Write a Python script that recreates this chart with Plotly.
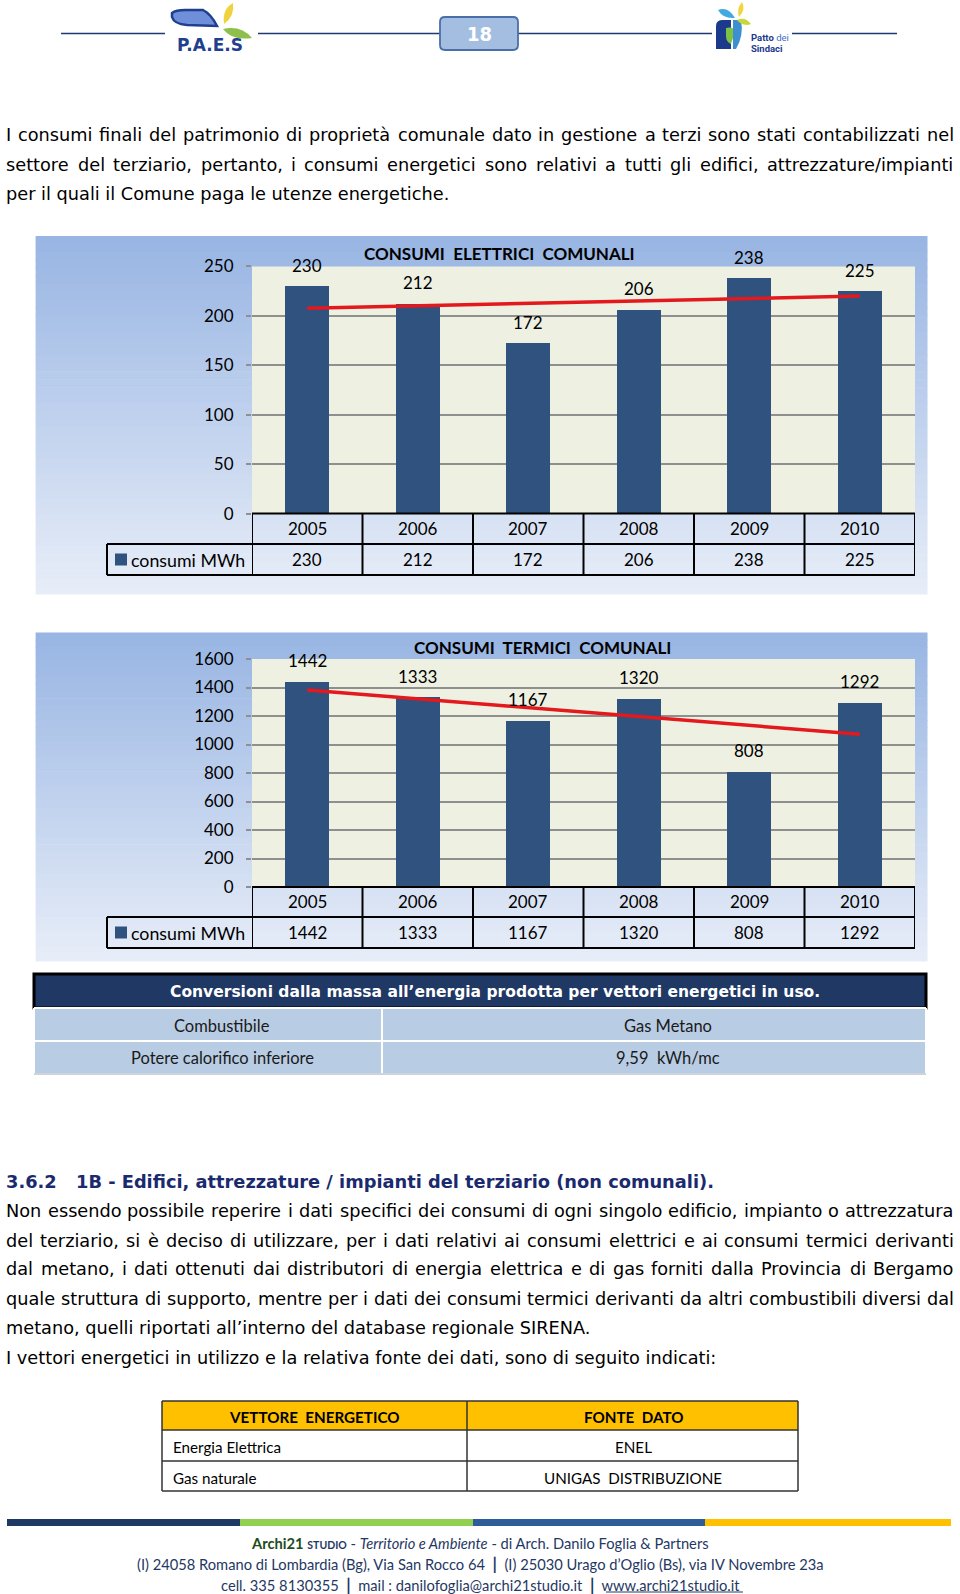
import struct, glob, os
import numpy as np
import plotly.graph_objects as go

# ---------------- data ----------------
years = [2005, 2006, 2007, 2008, 2009, 2010]
elettrici = [230, 212, 172, 206, 238, 225]
termici = [1442, 1333, 1167, 1320, 808, 1292]
series_name = "consumi MWh"
title_elettrici = "CONSUMI  ELETTRICI  COMUNALI"
title_termici = "CONSUMI  TERMICI  COMUNALI"
yticks_elettrici = [0, 50, 100, 150, 200, 250]
yticks_termici = [0, 200, 400, 600, 800, 1000, 1200, 1400, 1600]

para1 = [
    "I consumi finali del patrimonio di proprietà comunale dato in gestione a terzi sono stati contabilizzati nel",
    "settore del terziario, pertanto, i consumi energetici sono relativi a tutti gli edifici, attrezzature/impianti",
    "per il quali il Comune paga le utenze energetiche.",
]
para1_just = [True, True, False]
heading_num = "3.6.2"
heading_text = "1B - Edifici, attrezzature / impianti del terziario (non comunali)."
para2 = [
    "Non essendo possibile reperire i dati specifici dei consumi di ogni singolo edificio, impianto o attrezzatura",
    "del terziario, si è deciso di utilizzare, per i dati relativi ai consumi elettrici e ai consumi termici derivanti",
    "dal metano, i dati ottenuti dai distributori di energia elettrica e di gas forniti dalla Provincia di Bergamo",
    "quale struttura di supporto, mentre per i dati dei consumi termici derivanti da altri combustibili diversi dal",
    "metano, quelli riportati all’interno del database regionale SIRENA.",
    "I vettori energetici in utilizzo e la relativa fonte dei dati, sono di seguito indicati:",
]
para2_just = [True, True, True, True, False, False]

conv_title = "Conversioni dalla massa all’energia prodotta per vettori energetici in uso."
conv_rows = [("Combustibile", "Gas Metano"), ("Potere calorifico inferiore", "9,59  kWh/mc")]
fonti_header = ("VETTORE  ENERGETICO", "FONTE  DATO")
fonti_rows = [("Energia Elettrica", "ENEL"), ("Gas naturale", "UNIGAS  DISTRIBUZIONE")]
page_number = "18"

# ---------------- geometry helpers ----------------
W, H = 960, 1594
def fx(x): return x / W
def fy(y): return 1 - y / H

shapes, annotations = [], []
NOLINE = dict(color="rgba(0,0,0,0)", width=0)

def rect(x0, y0, x1, y1, fill, lc=None, lw=0, layer="below"):
    shapes.append(dict(type="rect", xref="paper", yref="paper", x0=fx(x0), x1=fx(x1),
                       y0=fy(y1), y1=fy(y0), fillcolor=fill, layer=layer,
                       line=dict(color=lc, width=lw) if lc else NOLINE))

def seg(x0, y0, x1, y1, color, w, layer="above", xref="paper"):
    X0, X1 = (fx(x0), fx(x1)) if xref == "paper" else (x0, x1)
    shapes.append(dict(type="line", xref=xref, yref="paper", x0=X0, x1=X1, y0=fy(y0), y1=fy(y1),
                       line=dict(color=color, width=w), layer=layer))

def path(cmds, fill, lc=None, lw=0, layer="above"):
    s = ""
    for c in cmds:
        if c[0] == "Z":
            s += " Z"
        else:
            pts = c[1:]
            s += " " + c[0] + " " + " ".join(f"{fx(pts[i]):.5f},{fy(pts[i+1]):.5f}" for i in range(0, len(pts), 2))
    shapes.append(dict(type="path", xref="paper", yref="paper", path=s.strip(), fillcolor=fill,
                       layer=layer, line=dict(color=lc, width=lw) if lc else NOLINE))

def text(x, y, s, size, color="#000000", family="Lato", xanchor="center", xref="paper", yshift=0):
    annotations.append(dict(x=fx(x) if xref == "paper" else x, y=fy(y), xref=xref, yref="paper",
                            text=s, showarrow=False, xanchor=xanchor, yanchor="middle",
                            borderpad=0, borderwidth=0, yshift=yshift,
                            font=dict(size=size, color=color, family=family)))

# ---------------- font metrics (for justified text) ----------------
def find_font(name):
    for d in ["/usr/share/fonts", "/usr/local/share/fonts", os.path.expanduser("~/.fonts"),
              os.path.expanduser("~/.local/share/fonts")]:
        r = glob.glob(os.path.join(d, "**", name), recursive=True)
        if r:
            return r[0]
    return None

class Metrics:
    def __init__(self, p):
        data = open(p, "rb").read()
        n = struct.unpack(">H", data[4:6])[0]
        t = {}
        for i in range(n):
            tag, cs, off, ln = struct.unpack(">4sIII", data[12 + 16 * i:28 + 16 * i])
            t[tag] = off
        self.upem = struct.unpack(">H", data[t[b"head"] + 18:t[b"head"] + 20])[0]
        nhm = struct.unpack(">H", data[t[b"hhea"] + 34:t[b"hhea"] + 36])[0]
        hm = t[b"hmtx"]
        self.adv = [struct.unpack(">H", data[hm + 4 * i:hm + 4 * i + 2])[0] for i in range(nhm)]
        c = t[b"cmap"]
        nsub = struct.unpack(">H", data[c + 2:c + 4])[0]
        best = None
        for i in range(nsub):
            pid, eid, off = struct.unpack(">HHI", data[c + 4 + 8 * i:c + 12 + 8 * i])
            fmt = struct.unpack(">H", data[c + off:c + off + 2])[0]
            if fmt == 4 and (pid, eid) in ((3, 1), (0, 3), (0, 4), (0, 1)):
                best = c + off
                if (pid, eid) == (3, 1):
                    break
        o = best
        sx2 = struct.unpack(">H", data[o + 6:o + 8])[0]
        ns = sx2 // 2
        self.ends = struct.unpack(">%dH" % ns, data[o + 14:o + 14 + sx2])
        self.starts = struct.unpack(">%dH" % ns, data[o + 16 + sx2:o + 16 + 2 * sx2])
        self.deltas = struct.unpack(">%dh" % ns, data[o + 16 + 2 * sx2:o + 16 + 3 * sx2])
        self.ropos = o + 16 + 3 * sx2
        self.ros = struct.unpack(">%dH" % ns, data[self.ropos:self.ropos + sx2])
        self.data = data

    def gid(self, ch):
        for s in range(len(self.ends)):
            if self.ends[s] >= ch:
                if self.starts[s] > ch:
                    return 0
                if self.ros[s] == 0:
                    return (ch + self.deltas[s]) & 0xFFFF
                addr = self.ropos + 2 * s + self.ros[s] + 2 * (ch - self.starts[s])
                g = struct.unpack(">H", self.data[addr:addr + 2])[0]
                return (g + self.deltas[s]) & 0xFFFF if g else 0
        return 0

    def units(self, s):
        tot = 0
        for ch in s:
            g = self.gid(ord(ch))
            tot += self.adv[g] if g < len(self.adv) else self.adv[-1]
        return tot / self.upem

class Fallback:
    def __init__(self, k): self.k = k
    def units(self, s): return len(s) * self.k

def load(name, k):
    p = find_font(name)
    try:
        return Metrics(p) if p else Fallback(k)
    except Exception:
        return Fallback(k)

m_reg = load("DejaVuSans.ttf", 0.55)
m_bold = load("DejaVuSans-Bold.ttf", 0.62)

TL, TR = 6.1, 954.0
fits = [(para1[2], 447.5), (para2[4], 591.9), (para2[5], 722.0)]
body_size = float(np.mean([(e - TL) / m_reg.units(s) for s, e in fits]))
head_size = (715.0 - 76.3) / m_bold.units(heading_text)
conv_size = (820.0 - 169.0) / m_bold.units(conv_title)

def body_line(s, y, justify, metrics, size, family, color="#000000", left=TL, right=TR):
    if not justify:
        text(left, y, s, size, color, family, xanchor="left")
        return
    words = s.split(" ")
    ws = [metrics.units(w) * size for w in words]
    gap = (right - left - sum(ws)) / (len(words) - 1)
    x = left
    for w, wd in zip(words, ws):
        text(x, y, w, size, color, family, xanchor="left")
        x += wd + gap

BODY_FONT = "DejaVu Sans"
for s, y, j in zip(para1, [135.3, 164.7, 194.2], para1_just):
    body_line(s, y, j, m_reg, body_size, BODY_FONT)
HEAD_COLOR = "#1B2A6E"
text(TL, 1181.7, "<b>" + heading_num + "</b>", head_size, HEAD_COLOR, BODY_FONT, xanchor="left")
text(76.3, 1181.7, "<b>" + heading_text + "</b>", head_size, HEAD_COLOR, BODY_FONT, xanchor="left")
for s, y, j in zip(para2, [1211.0, 1240.6, 1269.3, 1298.6, 1328.0, 1357.6], para2_just):
    body_line(s, y, j, m_reg, body_size, BODY_FONT)

# ---------------- header ----------------
NAVY = "#1F3A70"
for a, b in [(61, 165), (258, 440), (518, 712), (792, 897)]:
    seg(a, 33.5, b, 33.5, NAVY, 1.5)
r = 5
bx0, by0, bx1, by1 = 440, 17, 518, 50
path([("M", bx0 + r, by0), ("L", bx1 - r, by0), ("Q", bx1, by0, bx1, by0 + r), ("L", bx1, by1 - r),
      ("Q", bx1, by1, bx1 - r, by1), ("L", bx0 + r, by1), ("Q", bx0, by1, bx0, by1 - r),
      ("L", bx0, by0 + r), ("Q", bx0, by0, bx0 + r, by0), ("Z",)], "#A3BEE1", "#4A6FA8", 1.8)
text(479, 34, "<b>" + page_number + "</b>", 20, "#FFFFFF", "DejaVu Sans Condensed")
# P.A.E.S logo
path([("M", 172, 13), ("Q", 176, 10, 185, 10), ("L", 203, 10), ("Q", 211, 14, 217, 26),
      ("L", 187, 25), ("Q", 174, 24, 172, 17), ("Z",)], "#6F8FDA", "#1F3F8F", 2.5)
path([("M", 233, 3), ("Q", 222, 9, 224, 24), ("Q", 235, 16, 233, 3), ("Z",)], "#F0D23C")
path([("M", 223, 29), ("Q", 241, 25, 252, 38), ("Q", 232, 41, 223, 29), ("Z",)], "#8DBF4A")
text(210, 45, "<b>P.A.E.S</b>", 17, "#1F3F8F", "DejaVu Sans")
# Patto dei Sindaci logo
path([("M", 716, 26), ("Q", 716, 20, 723, 20), ("L", 731, 20), ("L", 731, 49), ("L", 716, 49), ("Z",)], "#1B3A8C")
path([("M", 726, 28), ("Q", 734, 26, 735, 32), ("L", 731, 44), ("Q", 726, 42, 726, 36), ("Z",)], "#7DC242")
path([("M", 733, 20), ("L", 741, 20), ("Q", 744, 36, 736, 49), ("L", 733, 49), ("Z",)], "#3E8FD0")
path([("M", 718, 10), ("Q", 728, 6, 735, 18), ("Q", 723, 19, 718, 10), ("Z",)], "#3FA9E0")
path([("M", 742, 2), ("Q", 736, 9, 739, 17), ("Q", 746, 10, 742, 2), ("Z",)], "#F2D640")
path([("M", 737, 20), ("Q", 745, 16, 751, 24), ("Q", 743, 27, 737, 20), ("Z",)], "#C8D83A")
annotations.append(dict(x=fx(751), y=fy(37), xref="paper", yref="paper", showarrow=False,
                        xanchor="left", yanchor="middle", borderpad=0, borderwidth=0,
                        text="<b>Patto</b> <span style='color:#3F6FC0'>dei</span>",
                        font=dict(size=9.5, color="#1B3A8C", family="Roboto")))
annotations.append(dict(x=fx(751), y=fy(48), xref="paper", yref="paper", showarrow=False,
                        xanchor="left", yanchor="middle", borderpad=0, borderwidth=0,
                        text="<b>Sindaci</b>", font=dict(size=9.5, color="#1B3A8C", family="Roboto")))

# ---------------- charts ----------------
BAR = "#2F527F"
def gradient_box(x0, y0, x1, y1, top=(152, 181, 227), bot=(231, 237, 248), n=45):
    h = (y1 - y0) / n
    for i in range(n):
        t = i / (n - 1)
        c = tuple(int(round(top[k] + (bot[k] - top[k]) * t)) for k in range(3))
        rect(x0, y0 + i * h, x1, y0 + (i + 1) * h + 0.6, "rgb(%d,%d,%d)" % c)

fig = go.Figure()
charts = [
    dict(vals=elettrici, ticks=yticks_elettrici, title=title_elettrici, box=(35.6, 236, 927.5, 594),
         plot=(252, 266.4, 915, 513.6), rows=(513.6, 544, 575), tpos=(499, 253), ax=""),
    dict(vals=termici, ticks=yticks_termici, title=title_termici, box=(35.6, 632.5, 927.5, 961),
         plot=(252, 659, 915, 887), rows=(887, 917, 948), tpos=(542, 648), ax="2"),
]
layout_axes = {}
for ch in charts:
    bx = ch["box"]; pl = ch["plot"]; rw = ch["rows"]; ax = ch["ax"]
    xa, ya = "x" + ax, "y" + ax
    gradient_box(*bx)
    rect(pl[0], pl[1], pl[2], pl[3], "#EEF0E1")
    fig.add_trace(go.Bar(x=years, y=ch["vals"], width=0.4, marker=dict(color=BAR, line=dict(width=0)),
                         xaxis=xa, yaxis=ya, showlegend=False, hoverinfo="skip"))
    k, b = np.polyfit(years, ch["vals"], 1)
    tx = [years[0], years[-1]]
    fig.add_trace(go.Scatter(x=tx, y=[k * v + b for v in tx], mode="lines",
                             line=dict(color="#E3191E", width=3.5), xaxis=xa, yaxis=ya,
                             showlegend=False, hoverinfo="skip"))
    for yv, v in zip(years, ch["vals"]):
        annotations.append(dict(x=yv, y=v, xref=xa, yref=ya, text=str(v), showarrow=False,
                                yshift=21, font=dict(size=17, color="#000000", family="Lato")))
    text(ch["tpos"][0], ch["tpos"][1], "<b>" + ch["title"] + "</b>", 17, "#000000", "Lato")
    lo, hi = years[0] - 0.5, years[-1] + 0.5
    for yy in rw:
        seg(lo, yy, hi, yy, "#000000", 2, xref=xa)
    for v in [yv - 0.5 for yv in years] + [hi]:
        seg(v, rw[0], v, rw[2], "#000000", 2, xref=xa)
    seg(107, rw[1], pl[0], rw[1], "#000000", 2)
    seg(107, rw[2], pl[0], rw[2], "#000000", 2)
    seg(107, rw[1], 107, rw[2], "#000000", 2)
    for yv, v in zip(years, ch["vals"]):
        text(yv, (rw[0] + rw[1]) / 2, str(yv), 17, "#000000", "Lato", xref=xa)
        text(yv, (rw[1] + rw[2]) / 2, str(v), 17, "#000000", "Lato", xref=xa)
    km = (rw[1] + rw[2]) / 2
    rect(115, km - 6, 127, km + 6, BAR, layer="above")
    text(131, km, series_name, 17.8, "#000000", "Lato", xanchor="left")
    layout_axes["xaxis" + ax] = dict(domain=[fx(pl[0]), fx(pl[2])], range=[lo, hi], showticklabels=False,
                                     showgrid=False, zeroline=False, showline=False, fixedrange=True,
                                     anchor=ya, automargin=False)
    layout_axes["yaxis" + ax] = dict(domain=[fy(pl[3]), fy(pl[1])], range=[ch["ticks"][0], ch["ticks"][-1]],
                                     tickvals=ch["ticks"], showgrid=True, gridcolor="#8F8F8F", gridwidth=1.5,
                                     ticks="outside", ticklen=5, tickcolor="#8F8F8F", tickwidth=1.5,
                                     ticklabelstandoff=9, zeroline=False, showline=False,
                                     tickfont=dict(size=17, color="#000000", family="Lato"),
                                     fixedrange=True, anchor=xa, automargin=False)

# ---------------- conversion table ----------------
rect(34, 974, 926, 1008, "#1F3864", "#000000", 3, layer="above")
text(494.5, 992, "<b>" + conv_title + "</b>", conv_size, "#FFFFFF", "DejaVu Sans")
rect(34, 1008, 926, 1074, "#B8CCE4", layer="above")
for yy in (1008, 1041, 1074):
    seg(34, yy, 926, yy, "#FFFFFF", 2)
for xx in (34, 382, 926):
    seg(xx, 1008, xx, 1074, "#FFFFFF", 2)
seg(34, 1074, 926, 1074, "#9AA8BC", 1)
for (a, b_), yy in zip(conv_rows, (1026, 1058)):
    text(222, yy, a, 16.5, "#1A1A1A", "Lato")
    text(668, yy, b_, 16.5, "#1A1A1A", "Lato")

# ---------------- fonti table ----------------
rect(162, 1401, 798, 1430, "#FFC000", layer="above")
for yy in (1401, 1430, 1461, 1491):
    seg(162, yy, 798, yy, "#333333", 1.5)
for xx in (162, 467, 798):
    seg(xx, 1401, xx, 1491, "#333333", 1.5)
text(314, 1416.5, "<b>" + fonti_header[0] + "</b>", 15.2, "#000000", "Lato")
text(633, 1416.5, "<b>" + fonti_header[1] + "</b>", 15.2, "#000000", "Lato")
for (a, b_), yy in zip(fonti_rows, (1447, 1477.5)):
    text(173, yy, a, 15.2, "#000000", "Lato", xanchor="left")
    text(633, yy, b_, 15.2, "#000000", "Lato")

# ---------------- footer ----------------
for (a, b_), col in zip([(7, 240), (240, 473), (473, 705), (705, 951)],
                        ["#1F3864", "#92D050", "#2F5D9A", "#FFC000"]):
    rect(a, 1519, b_, 1526, col, layer="above")
FOOT = "#1F3864"
SEP = "<span style='font-size:17px'><b>|</b></span>"
footer_lines = [
    "<b><span style='color:#1E4D1E'>Archi21</span></b> <span style='font-size:10.5px'><b>STUDIO</b></span> - <i>Territorio e Ambiente</i> - di Arch. Danilo Foglia &amp; Partners",
    "(I) 24058 Romano di Lombardia (Bg), Via San Rocco 64  " + SEP + "  (I) 25030 Urago d’Oglio (Bs), via IV Novembre 23a",
    "cell. 335 8130355  " + SEP + "  mail : danilofoglia@archi21studio.it  " + SEP + "  www.archi21studio.it",
]
for s, yy in zip(footer_lines, (1542.5, 1563, 1584)):
    text(480, yy, s, 14.7, FOOT, "Lato")
seg(606, 1592, 743, 1592, FOOT, 1)

fig.update_layout(width=W, height=H, margin=dict(l=0, r=0, t=0, b=0, pad=0, autoexpand=False),
                  paper_bgcolor="#FFFFFF",
                  plot_bgcolor="rgba(0,0,0,0)", bargap=0, showlegend=False, autosize=False,
                  shapes=shapes, annotations=annotations, **layout_axes)
post = ("var d=document.getElementById('{plot_id}');"
        "d.style.position='absolute';d.style.top='0px';d.style.left='0px';"
        "document.documentElement.style.margin='0px';document.documentElement.style.padding='0px';"
        "document.body.style.margin='0px';document.body.style.padding='0px';"
        "document.documentElement.style.overflow='hidden';document.body.style.overflow='hidden';")
fig.write_html("out.html", config={"displayModeBar": False}, post_script=post)
